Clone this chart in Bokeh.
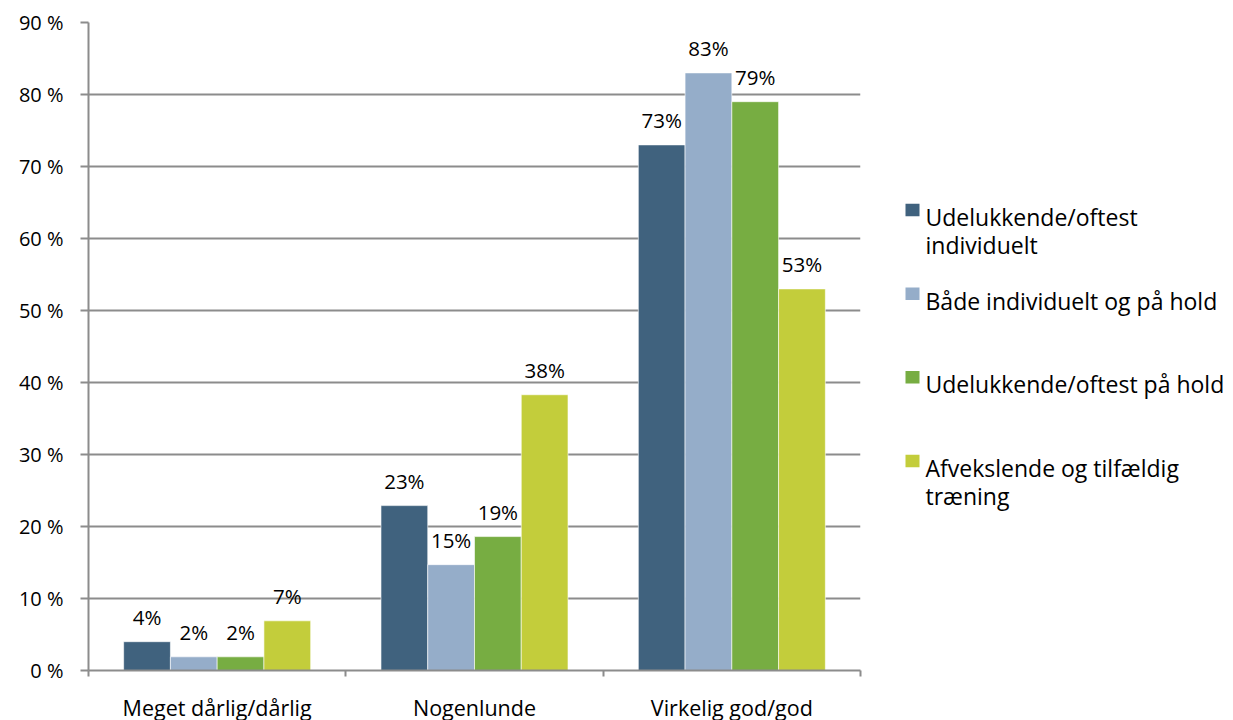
from bokeh.plotting import figure
from bokeh.models import ColumnDataSource, FixedTicker, Range1d, LabelSet
from bokeh.layouts import row
from bokeh.core.properties import value
from bokeh.embed import file_html
from bokeh.resources import INLINE

# ---------------- data ----------------
categories = ["Meget dårlig/dårlig", "Nogenlunde", "Virkelig god/god"]
series_names = [
    "Udelukkende/oftest individuelt",
    "Både individuelt og på hold",
    "Udelukkende/oftest på hold",
    "Afvekslende og tilfældig træning",
]
legend_lines = [
    ["Udelukkende/oftest", "individuelt"],
    ["Både individuelt og på hold"],
    ["Udelukkende/oftest på hold"],
    ["Afvekslende og tilfældig", "træning"],
]
individuelt = [4.0, 22.9, 73.0]
begge = [1.9, 14.7, 83.0]
hold = [1.9, 18.6, 79.0]
afvekslende = [6.9, 38.3, 53.0]
series_values = [individuelt, begge, hold, afvekslende]
y_ticks = [0, 10, 20, 30, 40, 50, 60, 70, 80, 90]
y_tick_labels = ["0 %", "10 %", "20 %", "30 %", "40 %", "50 %", "60 %", "70 %", "80 %", "90 %"]

colors = ["#40627e", "#95adc9", "#77ad42", "#c3cd3b"]
FONT = "Open Sans"
GRID = "#8c8c8c"

# ---------------- main chart ----------------
p = figure(
    frame_width=772, frame_height=648,
    x_range=Range1d(0, len(categories)), y_range=Range1d(0, 90),
    toolbar_location=None, output_backend="svg",
    min_border_left=88, min_border_top=22, min_border_right=10, min_border_bottom=46,
)
p.outline_line_color = None
p.background_fill_color = "white"

bar_w = 0.1817
offsets = [-1.5 * bar_w, -0.5 * bar_w, 0.5 * bar_w, 1.5 * bar_w]
centers = [i + 0.5 for i in range(len(categories))]

for vals, off, col, name in zip(series_values, offsets, colors, series_names):
    src = ColumnDataSource(dict(
        x=[c + off for c in centers],
        top=vals,
        label=[f"{round(v)}%" for v in vals],
    ))
    p.vbar(x="x", top="top", bottom=0, width=bar_w, source=src,
           fill_color=col, line_color="white", line_width=0.6)
    p.add_layout(LabelSet(x="x", y="top", text="label", source=src,
                          text_align="center", text_baseline="alphabetic",
                          y_offset=17, text_font=value(FONT),
                          text_font_size="20.5px", text_color="black"))

# grid
p.xgrid.grid_line_color = None
p.ygrid.ticker = FixedTicker(ticks=y_ticks)
p.ygrid.grid_line_color = GRID
p.ygrid.grid_line_width = 2

# y axis
p.yaxis.ticker = FixedTicker(ticks=y_ticks)
p.yaxis.major_label_overrides = {t: l for t, l in zip(y_ticks, y_tick_labels)}
p.yaxis.axis_line_color = GRID
p.yaxis.axis_line_width = 2
p.yaxis.major_tick_line_color = GRID
p.yaxis.major_tick_line_width = 2
p.yaxis.major_tick_out = 8
p.yaxis.major_tick_in = 0
p.yaxis.minor_tick_line_color = None
p.yaxis.major_label_standoff = 17
p.yaxis.major_label_text_font = FONT
p.yaxis.major_label_text_font_size = "20px"
p.yaxis.major_label_text_color = "black"

# x axis
p.xaxis.ticker = FixedTicker(ticks=centers,
                             minor_ticks=list(range(len(categories) + 1)))
p.xaxis.major_label_overrides = {c: n for c, n in zip(centers, categories)}
p.xaxis.axis_line_color = GRID
p.xaxis.axis_line_width = 2
p.xaxis.major_tick_line_color = None
p.xaxis.major_tick_out = 0
p.xaxis.major_tick_in = 0
p.xaxis.minor_tick_line_color = GRID
p.xaxis.minor_tick_line_width = 2
p.xaxis.minor_tick_out = 6
p.xaxis.minor_tick_in = 0
p.xaxis.major_label_standoff = 16
p.xaxis.major_label_text_font = FONT
p.xaxis.major_label_text_font_size = "21.5px"
p.xaxis.major_label_text_color = "black"

# ---------------- legend panel ----------------
LW, LH = 360, 712
lg = figure(width=LW, height=LH, x_range=Range1d(0, LW), y_range=Range1d(LH, 0),
            toolbar_location=None, output_backend="svg",
            x_axis_location=None, y_axis_location=None, min_border=0)
lg.outline_line_color = None
lg.xgrid.grid_line_color = None
lg.ygrid.grid_line_color = None

y0, step, line_h = 210, 93.6, 31
sq_x, txt_x = 42, 55
sq_src = ColumnDataSource(dict(
    x=[sq_x] * len(series_names),
    y=[y0 + i * step for i in range(len(series_names))],
    c=colors,
))
lg.rect(x="x", y="y", width=14, height=14, fill_color="c", line_color=None, source=sq_src)
tx, ty, tt = [], [], []
for i, lines in enumerate(legend_lines):
    for j, ln in enumerate(lines):
        tx.append(txt_x)
        ty.append(y0 + i * step + 8 + j * line_h)
        tt.append(ln)
lg.text(x=tx, y=ty, text=tt, text_font=value(FONT), text_font_size="23px",
        text_baseline="alphabetic", text_align="left", text_color="black")

layout = row(p, lg)
open("out.html", "w").write(file_html(layout, INLINE))
